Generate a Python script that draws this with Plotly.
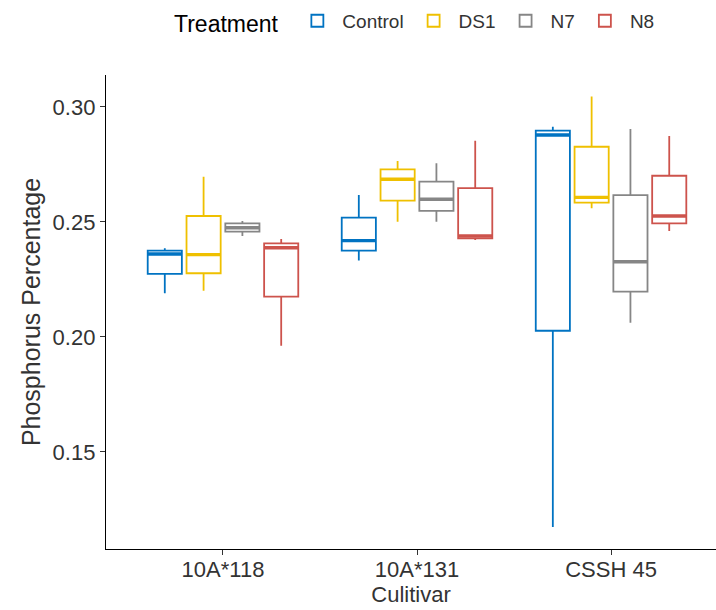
import plotly.graph_objects as go

# Cultivars on the x axis and treatment groups
cultivars = ["10A*118", "10A*131", "CSSH 45"]
treatments = ["Control", "DS1", "N7", "N8"]
colors = ["#0073C2", "#EFC000", "#868686", "#CD534C"]

# Box statistics per treatment, one value per cultivar
lower = {
    "Control": [0.2190, 0.2332, 0.1174],
    "DS1":     [0.2201, 0.2501, 0.2560],
    "N7":      [0.2439, 0.2501, 0.2062],
    "N8":      [0.1962, 0.2422, 0.2461],
}
q1 = {
    "Control": [0.2274, 0.2375, 0.2027],
    "DS1":     [0.2277, 0.2593, 0.2584],
    "N7":      [0.2458, 0.2548, 0.2197],
    "N8":      [0.2175, 0.2429, 0.2494],
}
median = {
    "Control": [0.2361, 0.2419, 0.2878],
    "DS1":     [0.2358, 0.2686, 0.2607],
    "N7":      [0.2475, 0.2599, 0.2327],
    "N8":      [0.2388, 0.2439, 0.2526],
}
q3 = {
    "Control": [0.2375, 0.2519, 0.2897],
    "DS1":     [0.2526, 0.2729, 0.2827],
    "N7":      [0.2494, 0.2675, 0.2617],
    "N8":      [0.2407, 0.2647, 0.2701],
}
upper = {
    "Control": [0.2386, 0.2617, 0.2914],
    "DS1":     [0.2697, 0.2765, 0.3045],
    "N7":      [0.2504, 0.2755, 0.2904],
    "N8":      [0.2426, 0.2853, 0.2874],
}

y_ticks = [0.15, 0.20, 0.25, 0.30]

FONT = "Liberation Sans, Arial, sans-serif"

fig = go.Figure()
for name, col in zip(treatments, colors):
    # box, whiskers and thin median
    fig.add_trace(go.Box(
        name=name,
        x=cultivars,
        q1=q1[name],
        median=median[name],
        q3=q3[name],
        lowerfence=lower[name],
        upperfence=upper[name],
        boxpoints=False,
        whiskerwidth=0,
        offsetgroup=name,
        fillcolor="rgba(255,255,255,0)",
        line=dict(color=col, width=1.8),
        hoverinfo="skip",
    ))
for name, col in zip(treatments, colors):
    # heavier median bar drawn over the box at the same offset
    fig.add_trace(go.Box(
        name=name,
        x=cultivars,
        q1=median[name],
        median=median[name],
        q3=median[name],
        lowerfence=median[name],
        upperfence=median[name],
        boxpoints=False,
        whiskerwidth=0,
        offsetgroup=name,
        fillcolor="rgba(255,255,255,0)",
        line=dict(color=col, width=3.4),
        showlegend=False,
        hoverinfo="skip",
    ))

fig.update_layout(
    width=716,
    height=610,
    margin=dict(l=106, r=0, t=75, b=61),
    paper_bgcolor="white",
    plot_bgcolor="white",
    boxmode="group",
    boxgap=0.2,
    boxgroupgap=0.12,
    font=dict(family=FONT, color="#1a1a1a"),
    legend=dict(
        orientation="h",
        x=(172 - 106) / 610, xanchor="left",
        y=1.112, yanchor="middle",
        title=dict(text="Treatment ", font=dict(size=23, color="black")),
        font=dict(size=19, color="#333333"),
        itemwidth=40,
        traceorder="normal",
    ),
    xaxis=dict(
        type="category",
        range=[-0.603, 2.541],
        showline=True, linecolor="black", linewidth=1.3,
        ticks="outside", ticklen=5, tickcolor="#333333", tickwidth=1.2,
        tickfont=dict(size=22, color="#333333"),
        ticklabelstandoff=-5,
        showgrid=False, zeroline=False,
        title=dict(text="Culitivar", font=dict(size=22, color="#333333"), standoff=2),
    ),
    yaxis=dict(
        range=[0.1078, 0.3139],
        tickvals=y_ticks,
        tickformat=".2f",
        showline=True, linecolor="black", linewidth=1.3,
        ticks="outside", ticklen=5, tickcolor="#333333", tickwidth=1.2,
        tickfont=dict(size=22, color="#333333"),
        showgrid=False, zeroline=False,
        title=dict(text="Phosphorus Percentage", font=dict(size=25, color="#333333"), standoff=4),
    ),
)

fig.write_html("out.html")
